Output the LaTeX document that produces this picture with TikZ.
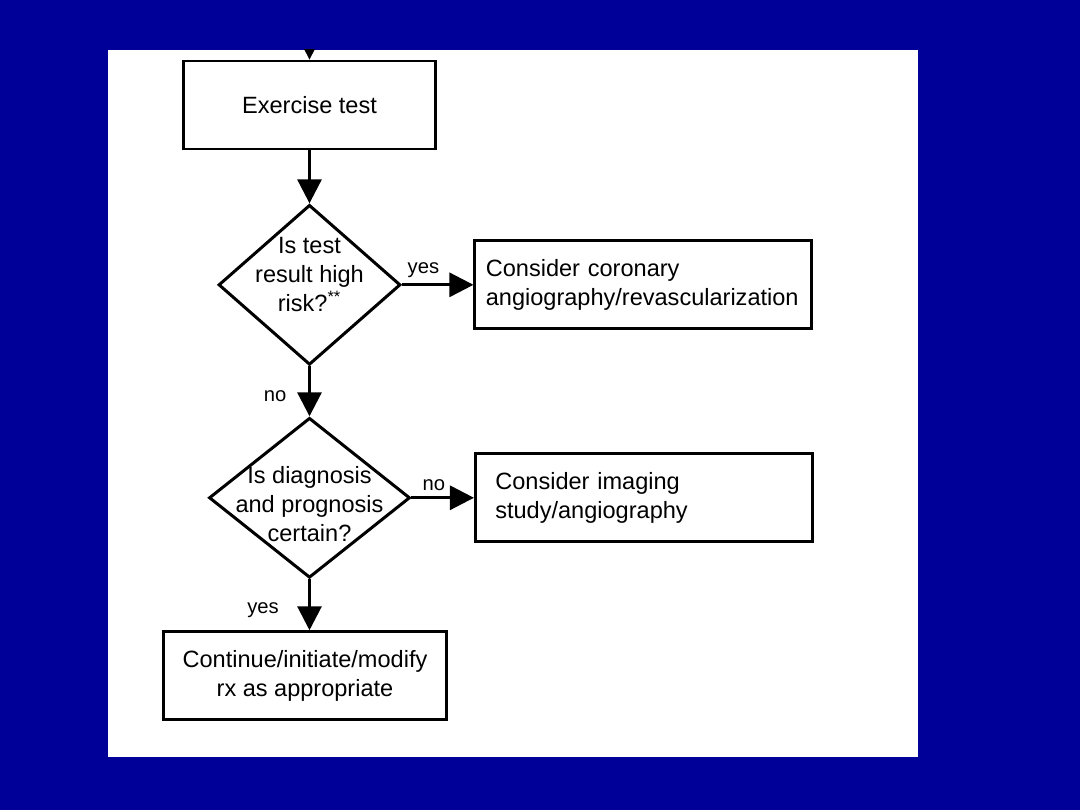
\documentclass[tikz,border=0pt]{standalone}
\usepackage{fontspec}
\setmainfont{Liberation Sans}
\usetikzlibrary{arrows.meta,positioning,shapes.geometric}
\definecolor{slideblue}{RGB}{0,0,153}
\tikzset{
    stepbox/.style={
        draw,
        line width=0.055cm,
        fill=white,
        align=center,
        minimum height=1.76cm,
        font=\fontsize{13.4}{16.5}\selectfont
    },
    sidebox/.style={
        stepbox,
        align=left,
        inner xsep=0.22cm,
        text width=6.3cm,
        minimum width=6.74cm
    },
    decision/.style={
        diamond,
        draw,
        line width=0.06cm,
        fill=white,
        inner sep=0pt,
        minimum height=3.2cm
    },
    dtext/.style={
        align=center,
        inner sep=0pt,
        font=\fontsize{13.4}{16.5}\selectfont
    },
    arrow/.style={
        -{Triangle[length=0.48cm,width=0.48cm]},
        line width=0.06cm
    },
    edgelabel/.style={
        font=\fontsize{11.5}{13}\selectfont,
        inner sep=1pt
    }
}

\begin{document}
\begin{tikzpicture}[x=0.02cm, y=-0.02cm, node distance=1.06cm and 1.43cm]
    % slide background and white panel
    \fill[slideblue] (0,0) rectangle (1080,810);
    \fill[white] (108,50) rectangle (918,757);
    \useasboundingbox (0,0) rectangle (1080,810);

    \node[stepbox, minimum width=5.04cm] (ex) at (309.5,105) {Exercise test};
    \node[decision, minimum width=3.64cm, below=of ex] (risk) {};
    \node[dtext, yshift=0.2cm] (risktext) at (risk) {Is test\\result high\\risk?\textsuperscript{**}};
    \node[sidebox, right=of risk] (cath) {Consider coronary\\angiography/revascularization};
    \node[decision, minimum width=4.02cm, below=1.0cm of risk] (certain) {};
    \node[dtext, yshift=-0.12cm] (certaintext) at (certain) {Is diagnosis\\and prognosis\\certain?};
    \node[sidebox, inner xsep=0.4cm, text width=5.94cm, right=1.25cm of certain] (imaging) {Consider imaging\\study/angiography};
    \node[stepbox, minimum width=5.66cm, below=1.02cm of certain, xshift=-0.09cm] (rx) {Continue/initiate/modify\\rx as appropriate};

    % arrow coming in from above the panel
    \coordinate (in) at (309.5,30);
    \begin{scope}
        \clip (108,50) rectangle (918,757);
        \draw[arrow] (in) -- (ex);
    \end{scope}

    \draw[arrow] (ex) -- (risk);
    \draw[arrow] (risk) -- node[edgelabel, above=0.08cm, pos=0.3] (yes1) {yes} (cath);
    \draw[arrow] (risk) -- node[edgelabel, left=0.4cm, pos=0.6] (no1) {no} (certain);
    \draw[arrow] (certain) -- node[edgelabel, above=0.08cm, pos=0.36] (no2) {no} (imaging);
    \draw[arrow] (certain.south) -- node[edgelabel, left=0.55cm, pos=0.6] (yes2) {yes} (certain.south |- rx.north);
\end{tikzpicture}
\end{document}
